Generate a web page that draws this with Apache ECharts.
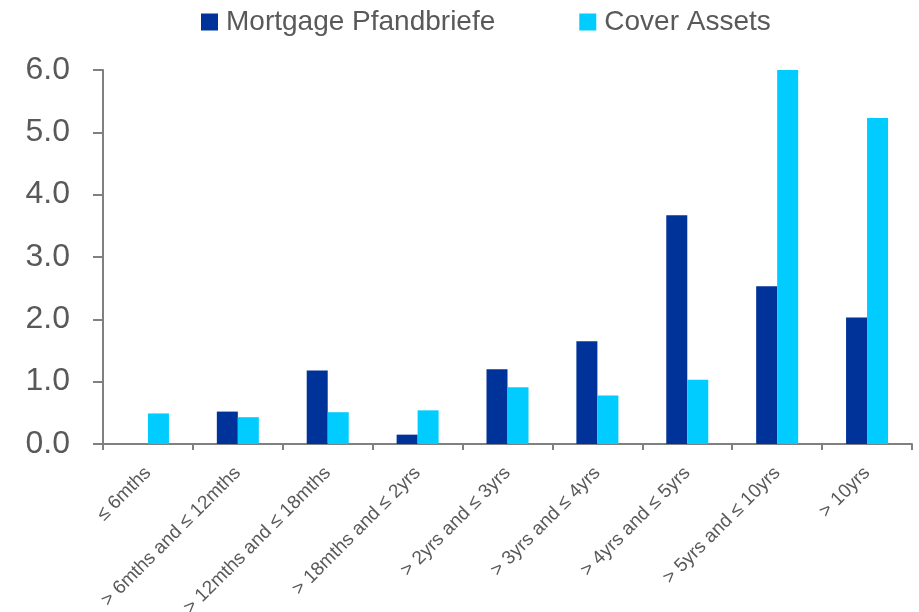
<!DOCTYPE html>
<html>
<head>
<meta charset="utf-8">
<title>Mortgage Pfandbriefe vs Cover Assets</title>
<script src="https://cdn.jsdelivr.net/npm/echarts@6/dist/echarts.min.js"></script>
<style>
  html, body { margin: 0; padding: 0; background: #fff; }
  #chart { width: 919px; height: 612px; }
</style>
</head>
<body>
<div id="chart"></div>
<script>
/* === Data === */
const categories = [
  '≤ 6mths',
  '> 6mths and ≤ 12mths',
  '> 12mths and ≤ 18mths',
  '> 18mths and ≤ 2yrs',
  '> 2yrs and ≤ 3yrs',
  '> 3yrs and ≤ 4yrs',
  '> 4yrs and ≤ 5yrs',
  '> 5yrs and ≤ 10yrs',
  '> 10yrs'
];
const mortgagePfandbriefe = [0, 0.52, 1.18, 0.15, 1.20, 1.65, 3.67, 2.53, 2.03];
const coverAssets = [0.49, 0.43, 0.51, 0.54, 0.91, 0.78, 1.03, 6.0, 5.23];
const seriesNames = ['Mortgage Pfandbriefe', 'Cover Assets'];

/* === Style === */
const DARK_BLUE = '#003399';
const CYAN = '#00CCFF';
const AXIS_GREY = '#808080';
const TEXT_GREY = '#595959';
const FONT = "'Liberation Sans', Arial, sans-serif";

/* === Bar Chart === */
function initChart() {
  const el = document.getElementById('chart');
  if (!el) return;
  const chart = echarts.init(el);
  chart.setOption({
    animation: false,
    textStyle: { fontFamily: FONT },
    legend: {
      top: 3,
      left: 196,
      icon: 'rect',
      itemWidth: 17,
      itemHeight: 17,
      itemGap: 84,
      textStyle: { color: TEXT_GREY, fontSize: 28, fontFamily: FONT, padding: [0, 0, 0, 3] },
      data: seriesNames
    },
    grid: { left: 103, right: 7, top: 70, bottom: 168, containLabel: false, outerBoundsMode: 'none' },
    xAxis: {
      type: 'category',
      data: categories,
      axisLine: { lineStyle: { color: AXIS_GREY, width: 2 } },
      axisTick: { show: true, length: 6, lineStyle: { color: AXIS_GREY, width: 2 } },
      axisLabel: {
        interval: 0,
        rotate: 45,
        margin: 26,
        color: TEXT_GREY,
        fontSize: 19,
        fontFamily: FONT
      }
    },
    yAxis: {
      type: 'value',
      min: 0,
      max: 6,
      interval: 1,
      splitLine: { show: false },
      axisLine: { show: true, lineStyle: { color: AXIS_GREY, width: 2 } },
      axisTick: { show: true, length: 10, lineStyle: { color: AXIS_GREY, width: 2 } },
      axisLabel: {
        margin: 33,
        color: TEXT_GREY,
        fontSize: 32,
        fontFamily: FONT,
        formatter: v => v.toFixed(1)
      }
    },
    series: [
      {
        name: seriesNames[0],
        type: 'bar',
        data: mortgagePfandbriefe,
        barWidth: 21,
        barGap: '0%',
        itemStyle: { color: DARK_BLUE }
      },
      {
        name: seriesNames[1],
        type: 'bar',
        data: coverAssets,
        barWidth: 21,
        barGap: '0%',
        itemStyle: { color: CYAN }
      }
    ]
  });
  window.addEventListener('resize', () => chart.resize());
}

if (document.readyState === 'loading') {
  document.addEventListener('DOMContentLoaded', initChart);
} else {
  initChart();
}
</script>
</body>
</html>
